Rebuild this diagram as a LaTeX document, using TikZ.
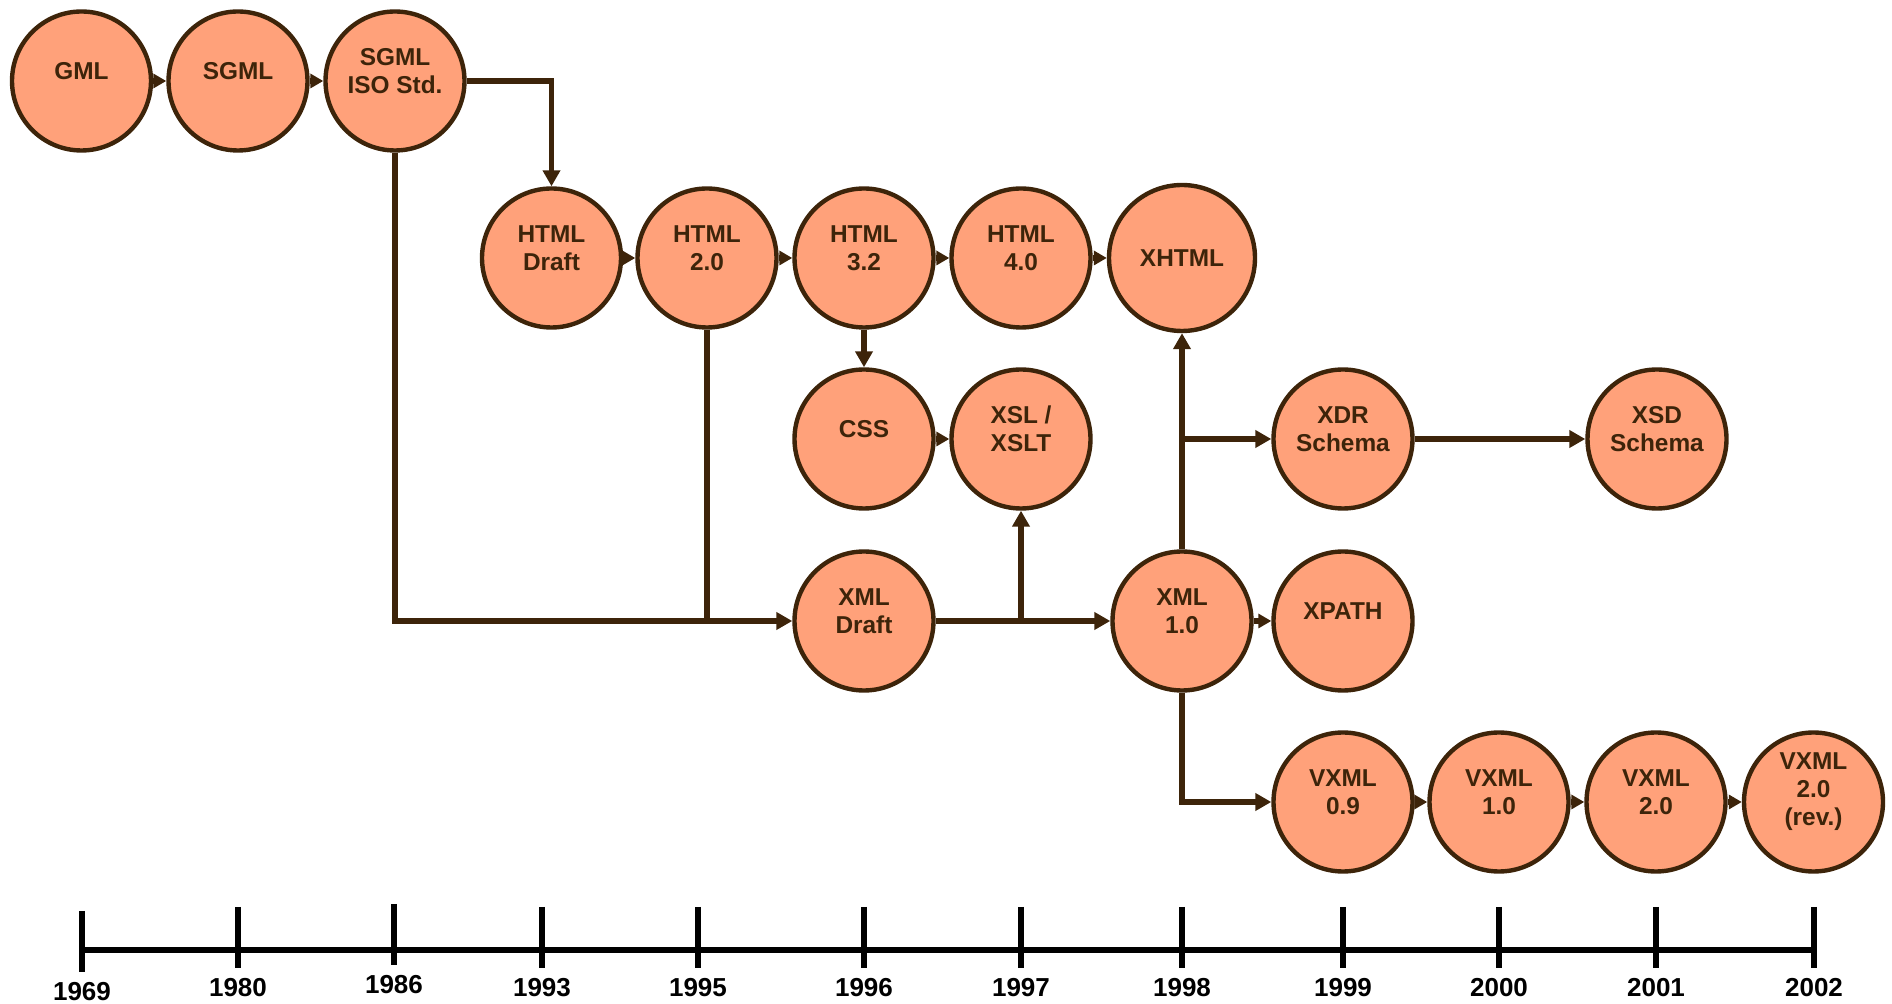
\documentclass[tikz,border=0pt]{standalone}
\usepackage{fontspec}
\setmainfont{Liberation Sans}
\usetikzlibrary{arrows.meta}
\definecolor{salmonfill}{RGB}{255,161,122}
\definecolor{inkbrown}{RGB}{61,36,10}
\begin{document}
\begin{tikzpicture}[x=0.5pt,y=-0.5pt,
  stage/.style={circle, draw=inkbrown, fill=salmonfill, line width=2.2pt,
                minimum size=69.5pt, inner sep=0pt},
  bigstage/.style={stage, minimum size=73pt},
  stagetext/.style={text=inkbrown, font=\fontsize{12.2}{14}\selectfont\bfseries,
                    align=center, inner sep=0pt, yshift=5pt},
  link/.style={draw=inkbrown, line width=2.75pt},
  arrowlink/.style={link, -{Triangle[length=8pt,width=8.5pt]}},
  hop/.style={link, -{Triangle[length=6.5pt,width=7pt]}},
  axis/.style={draw=black, line width=2.6pt},
  yeartext/.style={text=black, font=\fontsize{13}{15}\selectfont\bfseries, inner sep=0pt}
]
\useasboundingbox (0,0) rectangle (1892,1004);

% ---- stages ----
\node[stage] (gml)     at (81.5,81) {};
\node[stage] (sgml)    at (238,81)  {};
\node[stage] (sgmliso) at (395,81)  {};

\node[stage]    (htmldraft) at (551.5,258) {};
\node[stage]    (html20)    at (707,258)   {};
\node[stage]    (html32)    at (864,258)   {};
\node[stage]    (html40)    at (1021,258)  {};
\node[bigstage] (xhtml)     at (1182,258)  {};

\node[stage] (css) at (864,439)  {};
\node[stage] (xsl) at (1021,439) {};
\node[stage] (xdr) at (1343,439) {};
\node[stage] (xsd) at (1657,439) {};

\node[stage] (xmldraft) at (864,621)  {};
\node[stage] (xml10)    at (1182,621) {};
\node[stage] (xpath)    at (1343,621) {};

\node[stage] (vxml09)  at (1343,802)   {};
\node[stage] (vxml10)  at (1499,802)   {};
\node[stage] (vxml20)  at (1656,802)   {};
\node[stage] (vxml20r) at (1813.5,802) {};

% ---- stage labels ----
\node[stagetext] (gml-t)       at (gml)       {GML};
\node[stagetext] (sgml-t)      at (sgml)      {SGML};
\node[stagetext] (sgmliso-t)   at (sgmliso)   {SGML\\ISO Std.};
\node[stagetext] (htmldraft-t) at (htmldraft) {HTML\\Draft};
\node[stagetext] (html20-t)    at (html20)    {HTML\\2.0};
\node[stagetext] (html32-t)    at (html32)    {HTML\\3.2};
\node[stagetext] (html40-t)    at (html40)    {HTML\\4.0};
\node[stagetext, yshift=-5pt] (xhtml-t) at (xhtml) {XHTML};
\node[stagetext] (css-t)       at (css)       {CSS};
\node[stagetext] (xsl-t)       at (xsl)       {XSL /\\XSLT};
\node[stagetext] (xdr-t)       at (xdr)       {XDR\\Schema};
\node[stagetext] (xsd-t)       at (xsd)       {XSD\\Schema};
\node[stagetext] (xmldraft-t)  at (xmldraft)  {XML\\Draft};
\node[stagetext] (xml10-t)     at (xml10)     {XML\\1.0};
\node[stagetext] (xpath-t)     at (xpath)     {XPATH};
\node[stagetext] (vxml09-t)    at (vxml09)    {VXML\\0.9};
\node[stagetext] (vxml10-t)    at (vxml10)    {VXML\\1.0};
\node[stagetext] (vxml20-t)    at (vxml20)    {VXML\\2.0};
\node[stagetext] (vxml20r-t)   at (vxml20r)   {VXML\\2.0\\(rev.)};

% ---- connectors ----
\draw[hop] (gml.east) -- (sgml.west);
\draw[hop] (sgml.east) -- (sgmliso.west);
\draw[arrowlink] (sgmliso.east) -| (htmldraft.north);
\draw[arrowlink] (sgmliso.south) |- (xmldraft.west);
\draw[link] (html20.south) -- (html20.south |- xmldraft.west);

\draw[hop] (htmldraft.east) -- (html20.west);
\draw[hop] (html20.east) -- (html32.west);
\draw[hop] (html32.east) -- (html40.west);
\draw[hop] (html40.east) -- (xhtml.west);
\draw[arrowlink] (html32.south) -- (css.north);
\draw[hop] (css.east) -- (xsl.west);

\draw[arrowlink] (xmldraft.east) -- (xml10.west);
\draw[arrowlink] (xsl.south |- xmldraft.east) -- (xsl.south);
\draw[arrowlink] (xml10.north) -- (xhtml.south);
\draw[arrowlink] (xml10.north |- xdr.west) -- (xdr.west);
\draw[arrowlink] (xdr.east) -- (xsd.west);
\draw[hop] (xml10.east) -- (xpath.west);
\draw[arrowlink] (xml10.south) |- (vxml09.west);

\draw[hop] (vxml09.east) -- (vxml10.west);
\draw[hop] (vxml10.east) -- (vxml20.west);
\draw[hop] (vxml20.east) -- (vxml20r.west);

% ---- time axis ----
\coordinate (axis-start) at (82,950);
\coordinate (axis-end) at (1814,950);
\draw[axis] (axis-start) -- (axis-end);
\foreach \x/\yr/\dy in {82/1969/4, 238/1980/0, 394/1986/-3, 542/1993/0,
                        698/1995/0, 864/1996/0, 1021/1997/0, 1182/1998/0,
                        1343/1999/0, 1499/2000/0, 1656/2001/0, 1814/2002/0}{
  \draw[axis] (\x,907+\dy) -- (\x,968+\dy);
  \node[yeartext] (year-\yr) at (\x,988+\dy) {\yr};
}
\end{tikzpicture}
\end{document}
